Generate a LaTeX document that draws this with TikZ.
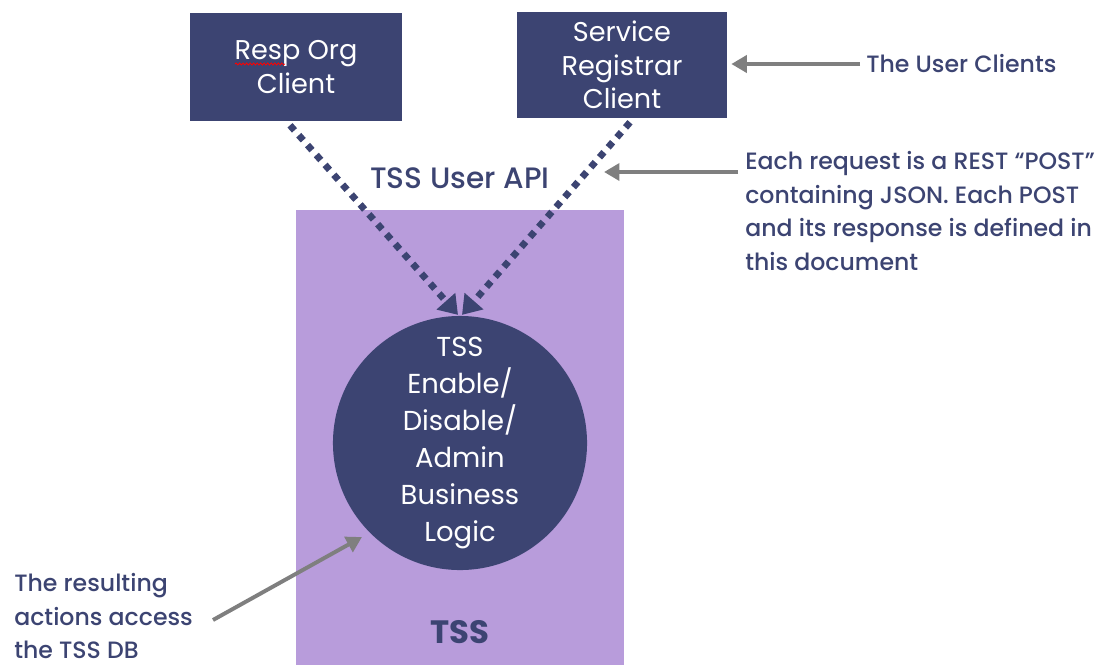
\documentclass[tikz,border=0pt]{standalone}
\usepackage{fontspec}
\setmainfont{Poppins}
\newfontfamily\medfont{Poppins Medium}
\usetikzlibrary{arrows.meta,decorations.pathmorphing}
\definecolor{navy}{HTML}{3C4472}
\definecolor{lilac}{HTML}{B89CDB}
\definecolor{arrowgray}{HTML}{7F7F7F}
\tikzset{
  clientbox/.style={fill=navy, draw=none, text=white, align=center, font=\fontsize{19.3}{24}\selectfont},
  tssbox/.style={fill=lilac, draw=none, minimum width=8.2cm, minimum height=11.375cm},
  logic/.style={circle, fill=navy, text=white, align=center, minimum size=6.35cm, inner sep=0pt, font=\fontsize{19.5}{26.3}\selectfont},
  dotarrow/.style={navy, line width=4.8pt, dash pattern=on 4.8pt off 4.6pt, -{Triangle[length=13pt,width=17pt]}},
  grayarrow/.style={arrowgray, line width=2.8pt, -{Triangle[length=11pt,width=12pt]}},
  note/.style={text=navy, align=left, font=\medfont\fontsize{16.8}{24}\selectfont, inner sep=0pt},
}
\begin{document}
\begin{tikzpicture}[x=0.025cm,y=-0.025cm]
\useasboundingbox (0,0) rectangle (1112,665);
\node[tssbox] (tss) at (460,437.5) {};
\node[clientbox, minimum width=5.3cm, minimum height=2.7cm] (resp) at (296,67) {Resp Org\\Client};
\node[clientbox, minimum width=5.25cm, minimum height=2.65cm] (serv) at (622,65) {Service\\Registrar\\Client};
\draw[red, line width=0.6pt, decorate, decoration={snake, amplitude=0.7pt, segment length=2.5pt}] (235,64) -- (285,64);
\node[logic] (circ) at (460,443) {TSS\\Enable/\\Disable/\\Admin\\Business\\Logic};
\node[text=navy, font=\medfont\fontsize{21}{24}\selectfont] (api) at (460,178) {TSS User API};
\node[text=navy, font=\fontsize{23}{26}\selectfont\bfseries] (tsslabel) at (460,632) {TSS};
\draw[dotarrow] ([xshift=-0.15cm,yshift=-0.1cm]resp.south) -- ([xshift=-0.05cm,yshift=0.02cm]circ.north);
\draw[dotarrow] ([xshift=0.2cm,yshift=-0.1cm]serv.south) -- ([xshift=0.05cm,yshift=0.02cm]circ.north);
\node[note, anchor=west] (uc) at (866,64) {The User Clients};
\draw[grayarrow] ([xshift=-0.15cm]uc.west) -- ([xshift=0.1cm]serv.east |- uc.west);
\node[note, anchor=north west] (req) at (745,151) {Each request is a REST “POST”\\containing JSON. Each POST\\and its response is defined in\\this document};
\coordinate (reqstart) at (738,172);
\coordinate (apiend) at (604,172);
\draw[grayarrow] (reqstart) -- (apiend);
\node[note, anchor=north west] (res) at (14,573) {The resulting\\actions access\\the TSS DB};
\coordinate (resstart) at (213,620);
\draw[grayarrow] (resstart) -- ([xshift=-0.2cm,yshift=-0.1cm]circ.225);
\end{tikzpicture}
\end{document}
